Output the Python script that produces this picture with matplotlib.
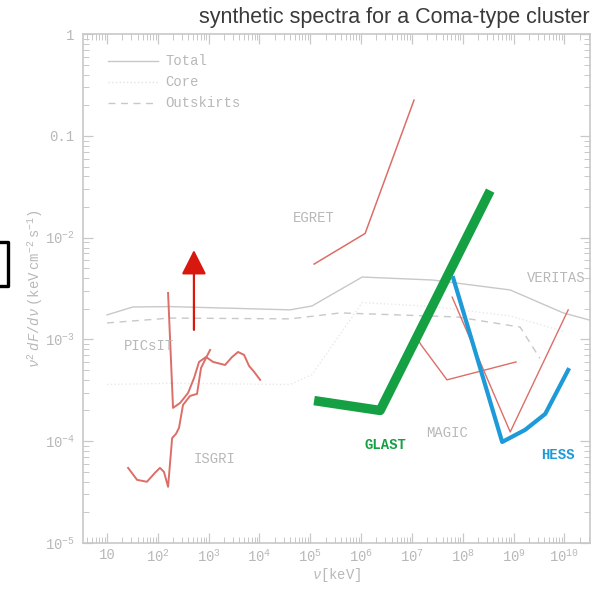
import numpy as np
import matplotlib
matplotlib.use("Agg")
import matplotlib.pyplot as plt
from matplotlib.lines import Line2D
from matplotlib.ticker import LogLocator, FuncFormatter, NullFormatter

plt.rcParams['mathtext.fontset'] = 'custom'
plt.rcParams['mathtext.rm'] = 'Liberation Mono'
plt.rcParams['mathtext.it'] = 'Liberation Mono:italic'
plt.rcParams['mathtext.bf'] = 'Liberation Mono:bold'

# model curves (keV, keV cm^-2 s^-1)
total_e = [10, 32, 174, 6.5e3, 4e4, 1.08e5, 1.05e6, 2.6e7, 8.6e8, 9.5e9, 3.1e10]
total_f = [1.74e-3, 2.08e-3, 2.1e-3, 2.0e-3, 1.95e-3, 2.13e-3, 4.1e-3, 3.83e-3, 3.06e-3, 1.82e-3, 1.55e-3]
core_e = [10, 174, 4e4, 1.08e5, 1.05e6, 2.6e7, 8.6e8, 9.5e9]
core_f = [3.6e-4, 3.7e-4, 3.6e-4, 4.5e-4, 2.3e-3, 2.1e-3, 1.7e-3, 1.2e-3]
outsk_e = [10, 174, 4e4, 3.9e5, 7.8e7, 1.35e9, 3.3e9]
outsk_f = [1.45e-3, 1.62e-3, 1.59e-3, 1.82e-3, 1.66e-3, 1.32e-3, 6.5e-4]

# instrument sensitivities
isgri_e = [26, 39, 61, 88, 110, 132, 159, 191, 228, 261, 313, 430, 591, 708, 849, 1067]
isgri_f = [5.45e-5, 4.16e-5, 3.98e-5, 4.88e-5, 5.45e-5, 4.98e-5, 3.55e-5, 1.07e-4,
           1.18e-4, 1.35e-4, 2.27e-4, 2.78e-4, 2.91e-4, 5.24e-4, 6.28e-4, 7.87e-4]
picsit_e = [159, 199, 274, 393, 517, 647, 889, 1222, 2100, 2890, 3790, 4980, 6240, 7830, 10300]
picsit_f = [2.86e-3, 2.12e-4, 2.37e-4, 2.97e-4, 4.18e-4, 6.0e-4, 6.71e-4, 6.0e-4,
            5.6e-4, 6.71e-4, 7.52e-4, 7.03e-4, 5.48e-4, 4.8e-4, 4.0e-4]
egret_e = [1.19e5, 1.2e6, 1.1e7]
egret_f = [5.5e-3, 1.1e-2, 0.225]
glast_e = [1.19e5, 2.37e6, 3.47e8]
glast_f = [2.5e-4, 2.0e-4, 2.9e-2]
magic_e = [1.26e7, 1.52e7, 4.9e7, 1.12e9]
magic_f = [1.03e-3, 8.8e-4, 4.0e-4, 6.0e-4]
veritas_e = [6.2e7, 8.6e8, 1.19e10]
veritas_f = [2.6e-3, 1.23e-4, 1.95e-3]
hess_e = [6.5e7, 1.9e8, 5.97e8, 1.69e9, 4.2e9, 1.19e10]
hess_f = [4.0e-3, 6.7e-4, 9.8e-5, 1.29e-4, 1.85e-4, 5.0e-4]

# upper limit arrow
arrow_e = 513
arrow_f = [1.24e-3, 7.55e-3]

# tick decades
x_decades = [1, 2, 3, 4, 5, 6, 7, 8, 9, 10]
y_decades = [-5, -4, -3, -2, -1, 0]

grey = '#c8c8c8'
txt = '#b8b8b8'
red = '#dc6e68'

fig = plt.figure(figsize=(5.93, 5.90), dpi=100)
ax = fig.add_axes([0.140, 0.080, 0.855, 0.862])
ax.set_xscale('log')
ax.set_yscale('log')

ax.plot(total_e, total_f, color=grey, lw=1.0)
ax.plot(core_e, core_f, color='#e8e8e8', lw=1.0, ls=':')
ax.plot(outsk_e, outsk_f, color=grey, lw=1.0, ls=(0, (5, 4)))

ax.plot(isgri_e, isgri_f, color=red, lw=1.4)
ax.plot(picsit_e, picsit_f, color=red, lw=1.4)
ax.plot(egret_e, egret_f, color=red, lw=1.1)
ax.plot(magic_e, magic_f, color=red, lw=1.0)
ax.plot(veritas_e, veritas_f, color=red, lw=1.0)
ax.plot(glast_e, glast_f, color='#16a044', lw=6.8, solid_capstyle='butt')
ax.plot(hess_e, hess_f, color='#1e9ad8', lw=3.0, solid_joinstyle='round')

ax.annotate('', xy=(arrow_e, arrow_f[1]), xytext=(arrow_e, arrow_f[0]),
            arrowprops=dict(arrowstyle='-|>,head_length=0.75,head_width=0.38',
                            mutation_scale=20, color='#d8180e', lw=1.6,
                            shrinkA=0, shrinkB=0))

# legend drawn by hand like the original
ax.plot([10.3, 100], [0.54, 0.54], color=grey, lw=1.0)
ax.plot([10.3, 100], [0.34, 0.34], color='#e2e2e2', lw=1.0, ls=':')
ax.plot([10.3, 100], [0.212, 0.212], color=grey, lw=1.0, ls=(0, (5, 4)))
mono = dict(family='Liberation Mono', fontsize=10, color=txt, va='center')
ax.text(140, 0.54, 'Total', **mono)
ax.text(140, 0.34, 'Core', **mono)
ax.text(140, 0.212, 'Outskirts', **mono)

ax.text(21, 8.6e-4, 'PICsIT', **mono)
ax.text(500, 6.6e-5, 'ISGRI', **mono)
ax.text(4.5e4, 1.55e-2, 'EGRET', **mono)
ax.text(7.0e9, 4.0e-3, 'VERITAS', ha='center', family='Liberation Mono',
        fontsize=10, color=txt, va='center')
ax.text(5e7, 1.2e-4, 'MAGIC', ha='center', family='Liberation Mono',
        fontsize=10, color=txt, va='center')
ax.text(3e6, 9.2e-5, 'GLAST', ha='center', va='center', family='Liberation Mono',
        fontsize=10, fontweight='bold', color='#16a044')
ax.text(7.5e9, 7.3e-5, 'HESS', ha='center', va='center', family='Liberation Mono',
        fontsize=10, fontweight='bold', color='#1e9ad8')


def xfmt(v, pos):
    e = int(round(np.log10(v)))
    return '10' if e == 1 else r'$10^{%d}$' % e


def yfmt(v, pos):
    e = int(round(np.log10(v)))
    if e == 0:
        return '1'
    if e == -1:
        return '0.1'
    return r'$10^{%d}$' % e


ax.set_xticks([10.0 ** k for k in x_decades])
ax.set_yticks([10.0 ** k for k in y_decades])
ax.xaxis.set_minor_locator(LogLocator(base=10, subs=np.arange(2, 10), numticks=15))
ax.yaxis.set_minor_locator(LogLocator(base=10, subs=np.arange(2, 10), numticks=15))
ax.xaxis.set_major_formatter(FuncFormatter(xfmt))
ax.yaxis.set_major_formatter(FuncFormatter(yfmt))
ax.xaxis.set_minor_formatter(NullFormatter())
ax.yaxis.set_minor_formatter(NullFormatter())
ax.set_xlim(3.37, 3.2e10)
ax.set_ylim(1e-5, 1)
ax.tick_params(which='both', direction='in', top=True, right=True,
               color=grey, labelcolor=txt, labelsize=10)
ax.tick_params(which='major', length=7, width=0.9, pad=6)
ax.tick_params(which='minor', length=4, width=0.7)
ax.tick_params(axis='x', which='major', pad=4)
for lab in ax.get_xticklabels() + ax.get_yticklabels():
    lab.set_family('Liberation Mono')
for sp in ax.spines.values():
    sp.set_color(grey)
    sp.set_linewidth(1.2)

ax.set_xlabel(r'$\nu\mathrm{[keV]}$', color=txt, fontsize=10, labelpad=1)
ax.set_ylabel(r'$\nu^2\ dF/d\nu\ \mathrm{(keV\ cm^{-2}\ s^{-1})}$',
              color=txt, fontsize=10, labelpad=0)

fig.text(0.995, 0.971, 'synthetic spectra for a Coma-type cluster', ha='right',
         va='center', family='Liberation Sans', fontsize=15.5, color='#3a3a3a')

# cut-off black box at left edge
fig.add_artist(Line2D([0, 0.0135, 0.0135, 0], [0.590, 0.590, 0.515, 0.515],
                      transform=fig.transFigure, color='black', lw=2.4))

fig.savefig('out.png', dpi=100)
